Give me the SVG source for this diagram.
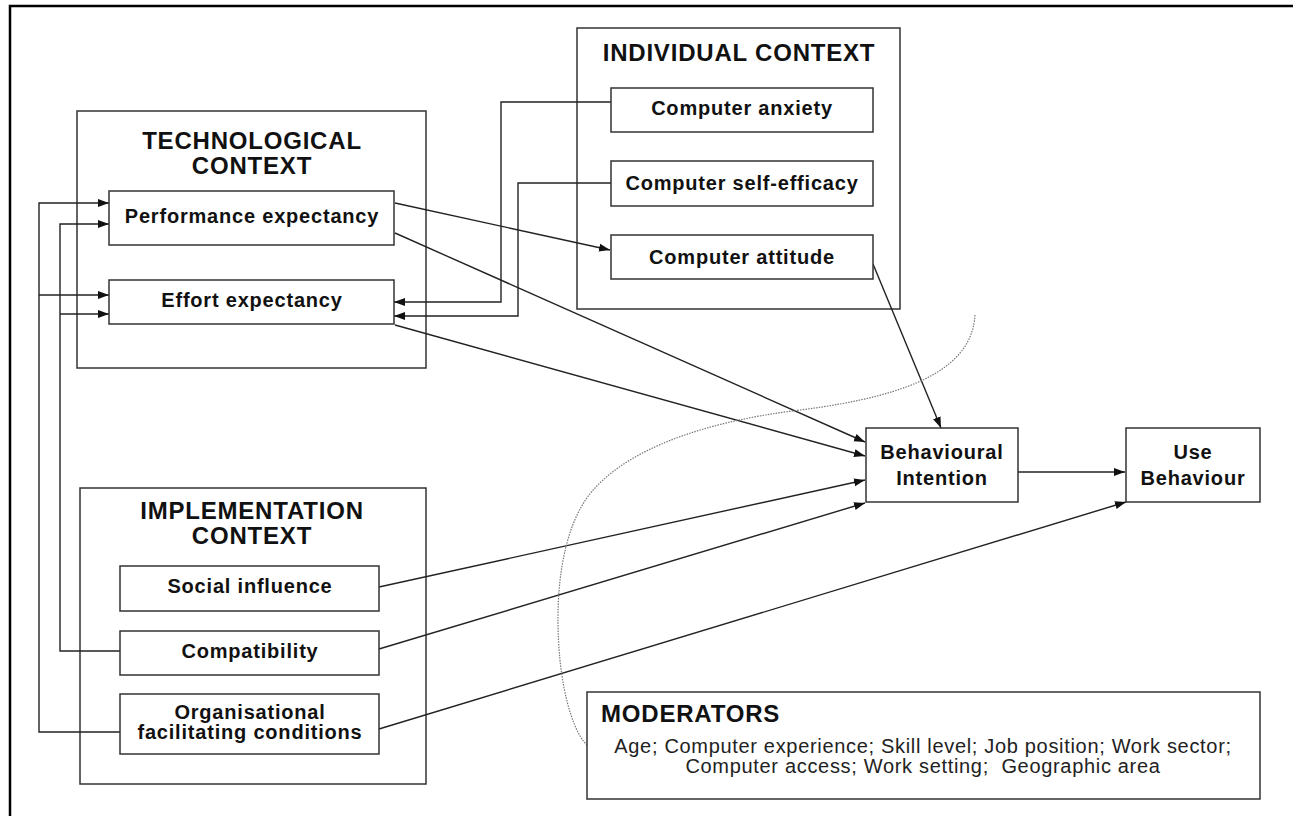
<svg xmlns="http://www.w3.org/2000/svg" width="1293" height="816" viewBox="0 0 1293 816">
<style>
.box{fill:#fff;stroke:#333;stroke-width:1.5}
.ctx{fill:none;stroke:#333;stroke-width:1.5}
.t{font-family:"Liberation Sans",Arial,sans-serif;font-weight:bold;font-size:20px;letter-spacing:0.8px;fill:#111;text-anchor:middle}
.h{font-family:"Liberation Sans",Arial,sans-serif;font-weight:bold;font-size:24px;letter-spacing:0.8px;fill:#111;text-anchor:middle}
.m{font-family:"Liberation Sans",Arial,sans-serif;font-size:20px;letter-spacing:0.68px;fill:#222;text-anchor:middle}
.c{fill:none;stroke:#222;stroke-width:1.4}
.a{marker-end:url(#arr)}
</style>
<defs>
<marker id="arr" markerUnits="userSpaceOnUse" markerWidth="12" markerHeight="10" viewBox="0 0 12 10" refX="11" refY="5" orient="auto">
<path d="M0,1 L11,5 L0,9 Z" fill="#111"/>
</marker>
</defs>
<rect width="1293" height="816" fill="#fff"/>
<path d="M10,816 V6 H1293" fill="none" stroke="#000" stroke-width="2.5"/>

<g id="technological-context">
<rect class="ctx" x="77" y="111" width="349" height="257"/>
<text class="h" x="252" y="149">TECHNOLOGICAL</text>
<text class="h" x="252" y="174">CONTEXT</text>
</g>
<g id="individual-context">
<rect class="ctx" x="577" y="28" width="323" height="281"/>
<text class="h" x="739" y="61">INDIVIDUAL CONTEXT</text>
</g>
<g id="implementation-context">
<rect class="ctx" x="80" y="488" width="346" height="296"/>
<text class="h" x="252" y="519">IMPLEMENTATION</text>
<text class="h" x="252" y="544">CONTEXT</text>
</g>

<g id="connectors">
<path class="c a" d="M120,732 H39 V203 H109"/>
<path class="c a" d="M39,295 H109"/>
<path class="c a" d="M120,651 H60 V224 H109"/>
<path class="c a" d="M60,314 H109"/>
<path class="c a" d="M611,102 H501 V302 H394"/>
<path class="c a" d="M611,183 H518 V316 H394"/>
<path class="c a" d="M395,203 L610,250"/>
<path class="c a" d="M395,233 L865,442"/>
<path class="c a" d="M395,325 L865,456"/>
<path class="c a" d="M873,264 L941,428"/>
<path class="c a" d="M379,587 L865,480"/>
<path class="c a" d="M379,649 L865,503"/>
<path class="c a" d="M379,729 L1126,502"/>
<path class="c a" d="M1018,472 L1125,472"/>
</g>

<path id="moderation-curve" d="M975,315 C972,365 920,395 800,410 C700,422 630,450 595,488 C560,525 554,600 560,660 C564,700 575,735 588,746" fill="none" stroke="#777" stroke-width="1.2" stroke-dasharray="1.5,1.2"/>

<g id="performance-expectancy">
<rect class="box" x="109" y="191" width="285" height="54"/>
<text class="t" x="252" y="223">Performance expectancy</text>
</g>
<g id="effort-expectancy">
<rect class="box" x="109" y="280" width="285" height="44"/>
<text class="t" x="252" y="307">Effort expectancy</text>
</g>
<g id="computer-anxiety">
<rect class="box" x="611" y="88" width="262" height="44"/>
<text class="t" x="742" y="115">Computer anxiety</text>
</g>
<g id="computer-self-efficacy">
<rect class="box" x="611" y="161" width="262" height="45"/>
<text class="t" x="742" y="190">Computer self-efficacy</text>
</g>
<g id="computer-attitude">
<rect class="box" x="611" y="235" width="262" height="44"/>
<text class="t" x="742" y="264">Computer attitude</text>
</g>
<g id="social-influence">
<rect class="box" x="120" y="566" width="259" height="45"/>
<text class="t" x="250" y="593">Social influence</text>
</g>
<g id="compatibility">
<rect class="box" x="120" y="631" width="259" height="44"/>
<text class="t" x="250" y="658">Compatibility</text>
</g>
<g id="organisational-facilitating-conditions">
<rect class="box" x="120" y="694" width="259" height="60"/>
<text class="t" x="250" y="719">Organisational</text>
<text class="t" x="250" y="739">facilitating conditions</text>
</g>
<g id="behavioural-intention">
<rect class="box" x="866" y="428" width="152" height="74"/>
<text class="t" x="942" y="459">Behavioural</text>
<text class="t" x="942" y="485">Intention</text>
</g>
<g id="use-behaviour">
<rect class="box" x="1126" y="428" width="134" height="74"/>
<text class="t" x="1193" y="459">Use</text>
<text class="t" x="1193" y="485">Behaviour</text>
</g>
<g id="moderators">
<rect class="box" x="587" y="692" width="673" height="107"/>
<text class="h" x="601" y="722" style="text-anchor:start">MODERATORS</text>
<text class="m" x="923" y="753">Age; Computer experience; Skill level; Job position; Work sector;</text>
<text class="m" x="923" y="773" xml:space="preserve">Computer access; Work setting;  Geographic area</text>
</g>
</svg>
